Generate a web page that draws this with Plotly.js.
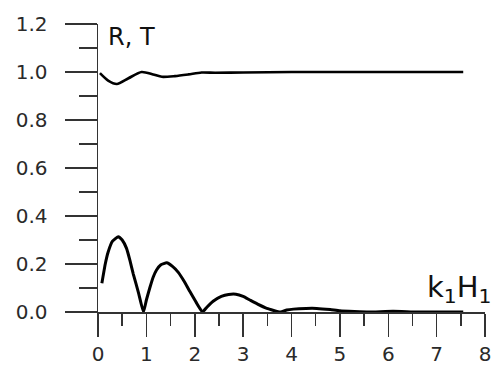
<!DOCTYPE html>
<html>
<head>
<meta charset="utf-8">
<script src="https://cdn.plot.ly/plotly-3.0.1.min.js"></script>
<style>html,body{margin:0;padding:0;background:#fff;}#chart{width:491px;height:367px;}</style>
</head>
<body>
<div id="chart"></div>
<script>
// Lower curve R (reflection)
const xR = [0.08, 0.15, 0.21, 0.30, 0.42, 0.50, 0.59, 0.66, 0.73, 0.84, 0.94,
            1.00, 1.07, 1.14, 1.21, 1.30, 1.42, 1.54, 1.66, 1.78, 1.90, 2.03, 2.16,
            2.25, 2.38, 2.55, 2.70, 2.85, 3.00, 3.14, 3.30, 3.49, 3.77,
            3.90, 4.04, 4.30, 4.52, 4.80, 5.00, 5.30, 5.60, 6.10, 6.60, 7.55];
const yR = [0.12, 0.20, 0.25, 0.295, 0.314, 0.30, 0.265, 0.215, 0.158, 0.078, 0.0,
            0.05, 0.10, 0.145, 0.175, 0.197, 0.205, 0.19, 0.165, 0.128, 0.085, 0.04, 0.0,
            0.02, 0.045, 0.065, 0.073, 0.074, 0.065, 0.05, 0.033, 0.015, 0.0,
            0.008, 0.012, 0.015, 0.015, 0.01, 0.005, 0.002, 0.0, 0.003, 0.0, 0.0];
// Upper curve T (transmission)
const xT = [0.04, 0.21, 0.39, 0.63, 0.90, 1.14, 1.32, 1.59, 1.87, 2.14, 2.42, 3.0, 4.0, 5.0, 6.0, 7.0, 7.55];
const yT = [0.995, 0.964, 0.95, 0.974, 1.0, 0.99, 0.98, 0.983, 0.99, 0.998, 0.997, 0.998, 1.0, 1.0, 1.0, 1.0, 1.0];

const axisFont = {family: 'DejaVu Sans, Arial, sans-serif', size: 20, color: '#2a2a2a'};

const traces = [
  {x: xR, y: yR, type: 'scatter', mode: 'lines', line: {color: '#000', width: 3, shape: 'spline', smoothing: 0.4}, cliponaxis: false, hoverinfo: 'skip'},
  {x: xT, y: yT, type: 'scatter', mode: 'lines', line: {color: '#000', width: 2.6, shape: 'spline', smoothing: 0.7}, cliponaxis: false, hoverinfo: 'skip'}
];

const layout = {
  width: 491, height: 367,
  margin: {l: 98, r: 6, t: 24, b: 55},
  paper_bgcolor: '#fff', plot_bgcolor: '#fff',
  showlegend: false,
  xaxis: {
    range: [0, 8], tick0: 0, dtick: 1, ticks: 'outside', ticklen: 23, tickwidth: 1.5, tickcolor: '#333',
    showline: true, linecolor: '#333', linewidth: 1.5, showgrid: false, zeroline: false,
    tickfont: axisFont, ticklabelstandoff: 0, ticklabeloverflow: 'allow',
    minor: {dtick: 0.5, tick0: 0, ticks: 'outside', ticklen: 12, tickwidth: 1.5, tickcolor: '#333', showgrid: false}
  },
  yaxis: {
    range: [0, 1.2], tick0: 0, dtick: 0.2, tickformat: '.1f', ticks: 'outside', ticklen: 32, tickwidth: 1.5, tickcolor: '#333',
    showline: true, linecolor: '#333', linewidth: 1.5, showgrid: false, zeroline: false,
    tickfont: axisFont, ticklabelstandoff: 13, ticklabeloverflow: 'allow',
    minor: {dtick: 0.1, tick0: 0.1, ticks: 'outside', ticklen: 18, tickwidth: 1.5, tickcolor: '#333', showgrid: false}
  },
  annotations: [
    {xref: 'paper', yref: 'paper', x: (106 - 98) / 387, y: (312 - 37) / 288, xanchor: 'left', yanchor: 'middle',
     text: 'R, T', showarrow: false, font: {family: 'DejaVu Sans, Arial, sans-serif', size: 24, color: '#111'}},
    {xref: 'paper', yref: 'paper', x: (493 - 98) / 387, y: (312 - 289) / 288, xanchor: 'right', yanchor: 'middle',
     text: 'k<sub>1</sub>H<sub>1</sub>', showarrow: false, font: {family: 'DejaVu Sans, Arial, sans-serif', size: 29, color: '#111'}}
  ]
};

Plotly.newPlot('chart', traces, layout, {staticPlot: true, displayModeBar: false});
</script>
</body>
</html>
